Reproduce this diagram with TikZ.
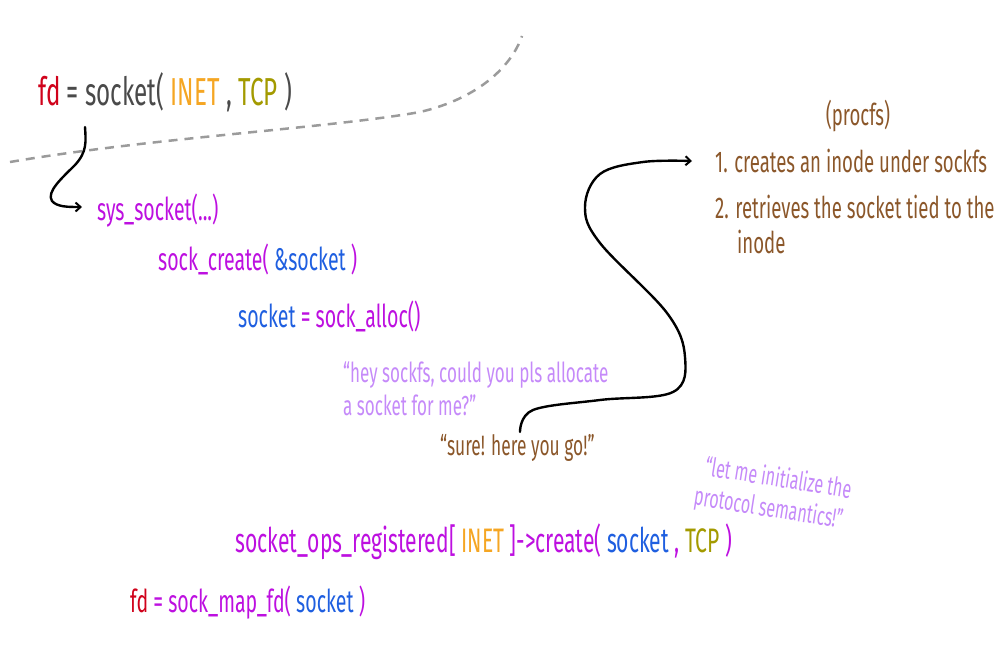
\documentclass[tikz,border=0pt]{standalone}
\usepackage{fontspec}
\usetikzlibrary{arrows.meta}
\newfontfamily\handfont[FakeStretch=0.62]{Fira Sans}
\definecolor{cred}{HTML}{D0021B}
\definecolor{cgray}{HTML}{4A4A4A}
\definecolor{corange}{HTML}{F5A623}
\definecolor{colive}{HTML}{A39A00}
\definecolor{cpurple}{HTML}{BD10E0}
\definecolor{cblue}{HTML}{1F5FE0}
\definecolor{clight}{HTML}{C58AF9}
\definecolor{cbrown}{HTML}{8B572A}
\definecolor{cdash}{HTML}{9B9B9B}
\tikzset{
  txt/.style={anchor=base west, inner sep=0pt, font=\handfont\fontsize{31.5}{36}\selectfont},
  big/.style={txt, font=\handfont\fontsize{39}{44}\selectfont},
  opsline/.style={txt, font=\handfont\fontsize{34}{38}\selectfont},
  note/.style={txt, text=cbrown, font=\handfont\fontsize{30}{34}\selectfont},
  sure/.style={note, font=\handfont\fontsize{28}{32}\selectfont},
  remark/.style={txt, text=clight, font=\handfont\fontsize{27.5}{31}\selectfont},
  tilted/.style={remark, font=\handfont\fontsize{26}{32}\selectfont},
  conn/.style={draw=black, line width=2.4pt, line cap=round, -{Straight Barb[length=5pt,width=9pt,line width=2pt]}},
  divider/.style={draw=cdash, line width=2.5pt, dash pattern=on 9pt off 7pt}
}
\begin{document}
\begin{tikzpicture}[x=1pt,y=-1pt]
\useasboundingbox (0,0) rectangle (1006,653);
% divider
\draw[divider] (10,162) .. controls (150,138) and (330,128) .. (420,112) .. controls (480,98) and (512,65) .. (522,36);
% code lines
\node[big] (l1) at (38,105) {\color{cred}fd \color{cgray}= socket( \color{corange}INET \color{cgray}, \color{colive}TCP \color{cgray})};
\node[txt, text=cpurple] (sys) at (97,220) {sys\_socket(...)};
\node[txt, text=cpurple] (create) at (158,270) {sock\_create( \color{cblue}\&socket \color{cpurple})};
\node[txt] (alloc) at (238,327) {\color{cblue}socket \color{cpurple}= sock\_alloc()};
\node[remark] (hey1) at (343,382) {“hey sockfs, could you pls allocate};
\node[remark] (hey2) at (343,415) {a socket for me?”};
\node[sure] (sure) at (440,455) {“sure! here you go!”};
\node[note, anchor=base] (procfs) at (858,125) {(procfs)};
\node[note] (step1) at (715,172) {1. creates an inode under sockfs};
\node[note] (step2) at (715,218) {2. retrieves the socket tied to the};
\node[note] (step2b) at (737,253) {inode};
\node[tilted, rotate=-9, anchor=north west, align=left] (init) at (707,455) {“let me initialize the\\[-1pt]\hspace*{-6pt}protocol semantics!”};
\node[opsline] (ops) at (235,552) {\color{cpurple}socket\_ops\_registered[ \color{corange}INET \color{cpurple}]->create( \color{cblue}socket \color{cpurple}, \color{colive}TCP \color{cpurple})};
\node[txt] (mapfd) at (130,612) {\color{cred}fd \color{cpurple}= sock\_map\_fd( \color{cblue}socket \color{cpurple})};
% connectors
\coordinate (a1s) at (85,127);
\coordinate (a1e) at (82,207);
\draw[conn] (a1s) .. controls (86,142) and (87,152) .. (75,165) .. controls (62,178) and (46,192) .. (52,201) .. controls (57,207) and (68,207) .. (a1e);
\coordinate (a2s) at (520,432);
\coordinate (a2e) at (692,161);
\draw[conn] plot[smooth, tension=0.6] coordinates {(a2s) (533,410) (600,400) (673,392) (685,357) (667,313) (600,243) (585,207) (600,174) (643,162) (a2e)};
\end{tikzpicture}
\end{document}
